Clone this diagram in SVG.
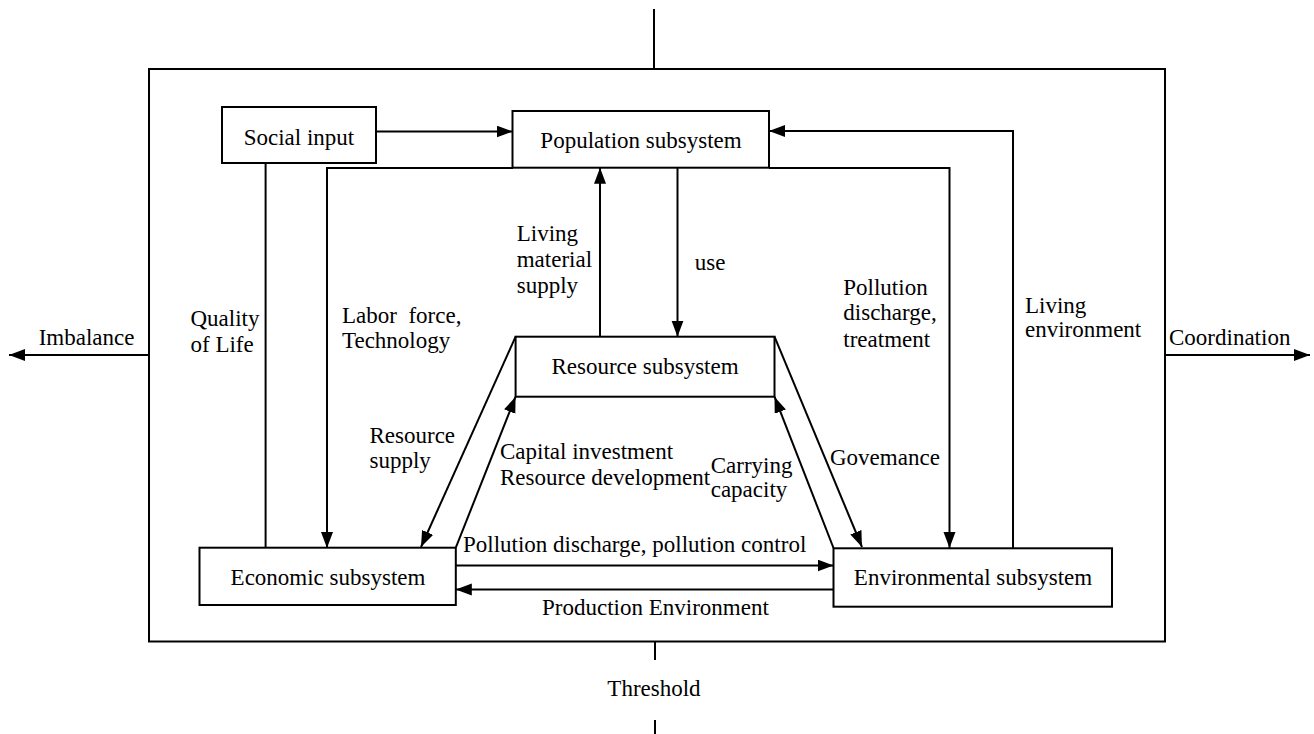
<svg xmlns="http://www.w3.org/2000/svg" width="1314" height="734" viewBox="0 0 1314 734">
<style>
.box{fill:#fff;stroke:#000;stroke-width:2}
.ln{fill:none;stroke:#000;stroke-width:2}
.ar{fill:none;stroke:#000;stroke-width:2;marker-end:url(#ah)}
text{font-family:"Liberation Serif","Times New Roman",serif;font-size:23px;fill:#000}
.c{text-anchor:middle}
</style>
<defs>
<marker id="ah" markerUnits="userSpaceOnUse" markerWidth="18" markerHeight="14" refX="16" refY="6" orient="auto">
<path d="M0,0 L16,6 L0,12 z" fill="#000"/>
</marker>
</defs>
<rect width="1314" height="734" fill="#fff"/>
<g id="frame">
<rect x="149" y="69" width="1016" height="572.5" class="ln"/>
<line x1="654" y1="9" x2="654" y2="69" class="ln"/>
<line x1="655" y1="641.5" x2="655" y2="660" class="ln"/>
<line x1="655" y1="720" x2="655" y2="734" class="ln"/>
<text x="654" y="696" class="c">Threshold</text>
</g>
<g id="connectors">
<line x1="376" y1="131.5" x2="512.5" y2="131.5" class="ar"/>
<path d="M1013,548 V131 H769" class="ar"/>
<path d="M513,168 H327 V548" class="ar"/>
<path d="M769,168 H949.5 V548" class="ar"/>
<line x1="265.6" y1="163" x2="265.6" y2="548" class="ln"/>
<line x1="600" y1="336.7" x2="600" y2="167.7" class="ar"/>
<line x1="677.5" y1="167.7" x2="677.5" y2="336.7" class="ar"/>
<line x1="515.6" y1="336.7" x2="421" y2="547" class="ar"/>
<line x1="455.8" y1="547.7" x2="515.6" y2="396.7" class="ar"/>
<line x1="833.5" y1="548" x2="774.5" y2="396.7" class="ar"/>
<line x1="774.5" y1="336.7" x2="862" y2="547" class="ar"/>
<line x1="455.8" y1="565.5" x2="833.5" y2="565.5" class="ar"/>
<line x1="833.5" y1="589.5" x2="455.8" y2="589.5" class="ar"/>
<line x1="149" y1="355" x2="9" y2="355" class="ar"/>
<line x1="1165" y1="355" x2="1310" y2="355" class="ar"/>
</g>
<g id="labels">
<text x="38.7" y="345">Imbalance</text>
<text x="1169" y="345">Coordination</text>
<text x="190.5" y="326">Quality</text>
<text x="190.5" y="351.7">of Life</text>
<text x="342" y="322.7" style="white-space:pre">Labor  force,</text>
<text x="342" y="348.3">Technology</text>
<text x="516.7" y="240.7">Living</text>
<text x="516.7" y="266.7">material</text>
<text x="516.7" y="292.7">supply</text>
<text x="694.7" y="270">use</text>
<text x="843.3" y="295">Pollution</text>
<text x="843.3" y="320">discharge,</text>
<text x="843.3" y="346.7">treatment</text>
<text x="1025" y="313.3">Living</text>
<text x="1025" y="336.7">environment</text>
<text x="369.5" y="443.3">Resource</text>
<text x="369.5" y="468.3">supply</text>
<text x="500" y="459.3">Capital investment</text>
<text x="500" y="485">Resource development</text>
<text x="710.7" y="472.7">Carrying</text>
<text x="710.7" y="496.7">capacity</text>
<text x="830" y="465">Govemance</text>
<text x="463" y="551.7">Pollution discharge, pollution control</text>
<text x="542" y="615">Production Environment</text>
</g>
<g id="social-input">
<rect x="222" y="107" width="154" height="56" class="box"/>
<text x="299" y="145" class="c">Social input</text>
</g>
<g id="population">
<rect x="512.5" y="111" width="256.5" height="56.7" class="box"/>
<text x="641" y="148.3" class="c">Population subsystem</text>
</g>
<g id="resource">
<rect x="515.6" y="336.7" width="258.9" height="60" class="box"/>
<text x="645" y="374" class="c">Resource subsystem</text>
</g>
<g id="economic">
<rect x="199.5" y="547.7" width="256.3" height="57.3" class="box"/>
<text x="328" y="585" class="c">Economic subsystem</text>
</g>
<g id="environmental">
<rect x="833.5" y="548.3" width="278.5" height="58.4" class="box"/>
<text x="973" y="585" class="c">Environmental subsystem</text>
</g>
</svg>
